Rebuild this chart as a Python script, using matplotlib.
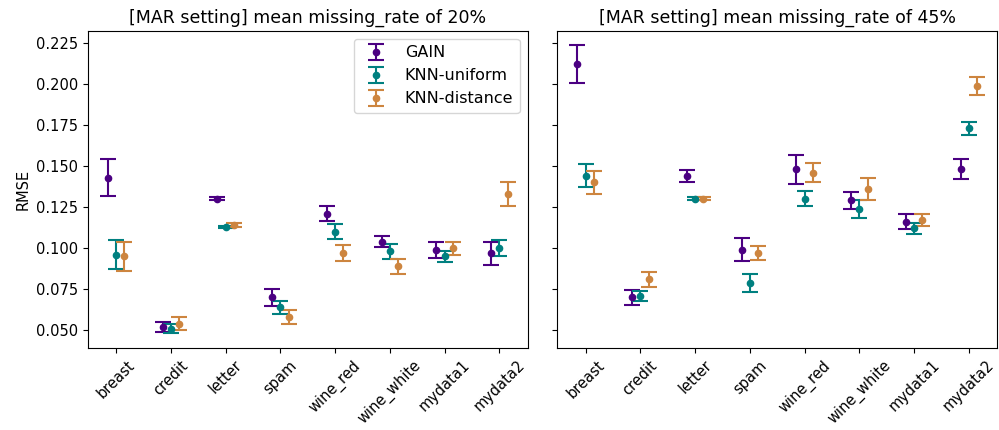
import numpy as np
import matplotlib
matplotlib.use('Agg')
import matplotlib.pyplot as plt

datasets = ['breast', 'credit', 'letter', 'spam', 'wine_red', 'wine_white', 'mydata1', 'mydata2']
methods = ['GAIN', 'KNN-uniform', 'KNN-distance']
colors = ['indigo', 'teal', 'peru']

# MAR 20%
mean_20 = {
    'GAIN':         [0.143, 0.052, 0.130, 0.070, 0.121, 0.104, 0.099, 0.097],
    'KNN-uniform':  [0.096, 0.051, 0.113, 0.064, 0.110, 0.098, 0.095, 0.100],
    'KNN-distance': [0.095, 0.054, 0.114, 0.058, 0.097, 0.089, 0.100, 0.133],
}
err_20 = {
    'GAIN':         [0.0115, 0.003, 0.001, 0.005, 0.0045, 0.0035, 0.005, 0.007],
    'KNN-uniform':  [0.009, 0.003, 0.0007, 0.004, 0.0045, 0.0045, 0.0035, 0.005],
    'KNN-distance': [0.009, 0.004, 0.001, 0.0045, 0.005, 0.0045, 0.004, 0.0075],
}

# MAR 45%
mean_45 = {
    'GAIN':         [0.212, 0.070, 0.144, 0.099, 0.148, 0.129, 0.116, 0.148],
    'KNN-uniform':  [0.144, 0.071, 0.130, 0.079, 0.130, 0.124, 0.112, 0.173],
    'KNN-distance': [0.140, 0.081, 0.130, 0.097, 0.146, 0.136, 0.117, 0.199],
}
err_45 = {
    'GAIN':         [0.0115, 0.0045, 0.0035, 0.007, 0.009, 0.005, 0.0045, 0.006],
    'KNN-uniform':  [0.007, 0.003, 0.001, 0.0055, 0.0045, 0.0055, 0.0035, 0.004],
    'KNN-distance': [0.007, 0.0045, 0.001, 0.0045, 0.006, 0.007, 0.0035, 0.0055],
}

fig, axes = plt.subplots(1, 2, figsize=(9.99, 4.3), dpi=100, sharey=True)
fig.subplots_adjust(left=0.088, right=0.998, bottom=0.191, top=0.928, wspace=0.068)

x = np.arange(len(datasets))
offsets = [-0.15, 0, 0.15]
panels = [(mean_20, err_20, '20%'), (mean_45, err_45, '45%')]

for ax, (means, errs, rate) in zip(axes, panels):
    for m, c, off in zip(methods, colors, offsets):
        ax.errorbar(x + off, means[m], yerr=errs[m], fmt='o', color=c,
                    capsize=6, markersize=4.5, elinewidth=1.5, capthick=1.5, label=m)
    ax.set_xticks(x)
    ax.set_xticklabels(datasets, rotation=45, fontsize=10.5)
    ax.tick_params(axis='y', labelsize=10.5)
    ax.set_title('[MAR setting] mean missing_rate of ' + rate, fontsize=12.5)

axes[0].set_ylabel('RMSE', fontsize=10.5)
axes[0].legend(loc='upper right', fontsize=11.5)

plt.savefig('out.png')
